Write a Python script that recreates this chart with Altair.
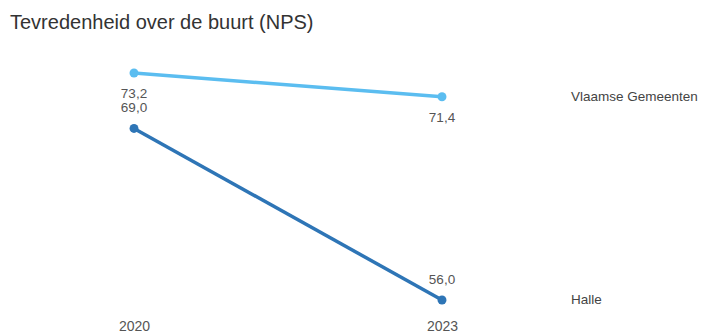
import altair as alt
import pandas as pd

years = [2020, 2023]
series_names = ["Vlaamse Gemeenten", "Halle"]
vlaamse = [73.2, 71.4]
halle = [69.0, 56.0]
colors = ["#5bbdf0", "#2e75b6"]

rows = []
for s, vals in zip(series_names, [vlaamse, halle]):
    for y, v in zip(years, vals):
        rows.append({"jaar": y, "reeks": s, "waarde": v,
                     "label": f"{v:.1f}".replace(".", ",")})
df = pd.DataFrame(rows)

FONT = "Liberation Sans"
xenc = alt.X("jaar:Q", scale=alt.Scale(domain=[2020, 2023], nice=False, zero=False),
             axis=alt.Axis(values=years, format="d", title=None, domain=False, ticks=False,
                           grid=False, labelPadding=19, labelFontSize=14, labelFlush=False,
                           labelColor="#555555", labelFont=FONT))
yenc = alt.Y("waarde:Q", scale=alt.Scale(domain=[56.0, 73.2], nice=False, zero=False), axis=None)
cenc = alt.Color("reeks:N", scale=alt.Scale(domain=series_names, range=colors), legend=None)

base = alt.Chart(df).encode(x=xenc, y=yenc)

lines = base.mark_line(strokeWidth=3.5).encode(color=cenc, detail="reeks:N")
points = base.mark_circle(size=80, opacity=1).encode(color=cenc)

lab_v = base.transform_filter(alt.datum.reeks == "Vlaamse Gemeenten").mark_text(
    dy=21, fontSize=13.5, color="#555555", font=FONT).encode(text="label:N")
lab_h = base.transform_filter(alt.datum.reeks == "Halle").mark_text(
    dy=-20, fontSize=13.5, color="#555555", font=FONT).encode(text="label:N")

names = base.transform_filter(alt.datum.jaar == 2023).mark_text(
    dx=129, align="left", fontSize=13.5, color="#444444", font=FONT).encode(text="reeks:N")

chart = alt.layer(lines, points, lab_v, lab_h, names).properties(
    width=308, height=227,
    autosize=alt.AutoSizeParams(type="none"),
    padding={"left": 134, "top": 73, "right": 260, "bottom": 33},
    title=alt.TitleParams("Tevredenheid over de buurt (NPS)", anchor="start", frame="group",
                          fontSize=20, fontWeight="normal", color="#333333", font=FONT,
                          dx=-124, offset=33),
).configure_view(stroke=None)

chart.save("out.html", embed_options={"renderer": "svg", "actions": False})
